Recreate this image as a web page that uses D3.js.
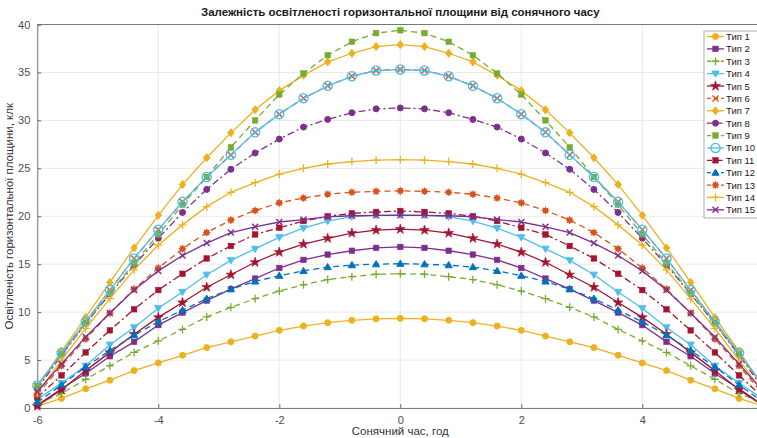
<!DOCTYPE html>
<html>
<head>
<meta charset="utf-8">
<script src="https://cdn.jsdelivr.net/npm/d3@7"></script>
<style>
  html, body { margin: 0; padding: 0; background: #fff; }
  svg { display: block; font-family: "Liberation Sans", Arial, sans-serif; }
</style>
</head>
<body>
<svg id="chart" width="757" height="438"></svg>
<script>
/* solar hour and illuminance of a horizontal plane, klx */
const hours = [-6,-5.6,-5.2,-4.8,-4.4,-4,-3.6,-3.2,-2.8,-2.4,-2,-1.6,-1.2,-0.8,-0.4,0,
               0.4,0.8,1.2,1.6,2,2.4,2.8,3.2,3.6,4,4.4,4.8,5.2,5.6,6];

const seriesNames = ["Тип 1","Тип 2","Тип 3","Тип 4","Тип 5","Тип 6","Тип 7","Тип 8",
                     "Тип 9","Тип 10","Тип 11","Тип 12","Тип 13","Тип 14","Тип 15"];

const type1  = [0.2,1.0,2.0,2.9,3.9,4.7,5.5,6.3,6.9,7.5,8.1,8.55,8.9,9.15,9.3,9.35,9.3,9.15,8.9,8.55,8.1,7.5,6.9,6.3,5.5,4.7,3.9,2.9,2.0,1.0,0.2];
const type2  = [0.3,2.0,3.6,5.4,6.9,8.65,9.95,11.2,12.4,13.5,14.6,15.45,16.0,16.4,16.7,16.8,16.7,16.4,16.0,15.45,14.6,13.5,12.4,11.2,9.95,8.65,6.9,5.4,3.6,2.0,0.3];
const type3  = [0.5,1.5,3.0,4.4,5.8,7.0,8.2,9.5,10.5,11.4,12.2,12.85,13.4,13.7,13.95,14.0,13.95,13.7,13.4,12.85,12.2,11.4,10.5,9.5,8.2,7.0,5.8,4.4,3.0,1.5,0.5];
const type4  = [0.9,2.6,4.4,6.6,8.4,10.4,12.1,13.9,15.4,16.6,17.8,18.75,19.5,19.95,20.1,20.15,20.1,19.95,19.5,18.75,17.8,16.6,15.4,13.9,12.1,10.4,8.4,6.6,4.4,2.6,0.9];
const type5  = [0.2,1.9,3.9,5.8,7.7,9.45,11.0,12.6,13.9,15.2,16.25,17.1,17.7,18.25,18.55,18.65,18.55,18.25,17.7,17.1,16.25,15.2,13.9,12.6,11.0,9.45,7.7,5.8,3.9,1.9,0.2];
const type6  = [2.35,5.75,9.0,12.3,15.6,18.6,21.5,24.1,26.4,28.75,30.65,32.3,33.6,34.6,35.2,35.3,35.2,34.6,33.6,32.3,30.65,28.75,26.4,24.1,21.5,18.6,15.6,12.3,9.0,5.75,2.35];
const type7  = [2.2,5.9,9.45,13.1,16.7,20.1,23.3,26.1,28.7,31.1,33.1,34.7,36.1,37.0,37.7,37.9,37.7,37.0,36.1,34.7,33.1,31.1,28.7,26.1,23.3,20.1,16.7,13.1,9.45,5.9,2.2];
const type8  = [2.0,5.5,8.8,11.9,14.9,17.7,20.4,22.8,24.9,26.6,28.05,29.3,30.1,30.8,31.2,31.3,31.2,30.8,30.1,29.3,28.05,26.6,24.9,22.8,20.4,17.7,14.9,11.9,8.8,5.5,2.0];
const type9  = [2.3,5.6,8.8,12.0,15.1,18.1,21.2,24.1,27.2,30.0,32.7,34.9,36.8,38.2,39.1,39.4,39.1,38.2,36.8,34.9,32.7,30.0,27.2,24.1,21.2,18.1,15.1,12.0,8.8,5.6,2.3];
const type10 = [2.35,5.75,9.0,12.3,15.6,18.6,21.5,24.1,26.4,28.75,30.65,32.3,33.6,34.6,35.2,35.3,35.2,34.6,33.6,32.3,30.65,28.75,26.4,24.1,21.5,18.6,15.6,12.3,9.0,5.75,2.35];
const type11 = [1.1,3.4,5.8,8.1,10.3,12.3,14.0,15.6,16.9,18.1,18.8,19.5,20.0,20.3,20.45,20.55,20.45,20.3,20.0,19.5,18.8,18.1,16.9,15.6,14.0,12.3,10.3,8.1,5.8,3.4,1.1];
const type12 = [0.6,2.4,4.3,6.0,7.6,9.0,10.2,11.4,12.4,13.2,13.8,14.3,14.7,14.9,15.0,15.05,15.0,14.9,14.7,14.3,13.8,13.2,12.4,11.4,10.2,9.0,7.6,6.0,4.3,2.4,0.6];
const type13 = [1.4,4.4,7.2,9.9,12.4,14.6,16.6,18.3,19.6,20.6,21.4,21.9,22.3,22.5,22.6,22.65,22.6,22.5,22.3,21.9,21.4,20.6,19.6,18.3,16.6,14.6,12.4,9.9,7.2,4.4,1.4];
const type14 = [1.6,5.0,8.3,11.4,14.4,17.0,19.1,21.0,22.5,23.5,24.4,25.0,25.45,25.7,25.85,25.9,25.85,25.7,25.45,25.0,24.4,23.5,22.5,21.0,19.1,17.0,14.4,11.4,8.3,5.0,1.6];
const type15 = [1.7,4.6,7.4,9.9,12.3,14.3,15.9,17.2,18.3,18.9,19.4,19.65,19.95,20.05,20.1,20.1,20.1,20.05,19.95,19.65,19.4,18.9,18.3,17.2,15.9,14.3,12.3,9.9,7.4,4.6,1.7];

const seriesValues = [type1, type2, type3, type4, type5, type6, type7, type8,
                      type9, type10, type11, type12, type13, type14, type15];

/* the x = 6 end of the axis falls outside the cropped picture */
const xTicks = [-6, -4, -2, 0, 2, 4];
const yTicks = [0, 5, 10, 15, 20, 25, 30, 35, 40];

/* line colour, dash and marker per series (MATLAB-like) */
const C = {
  blue: "#0072BD", orange: "#D95319", yellow: "#EDB120", purple: "#7E2F8E",
  green: "#77AC30", cyan: "#4DBEEE", red: "#A2142F"
};
const DASH = "6,4", DASHDOT = "7,3,2,3";
const styles = [
  { color: C.yellow, dash: null,    marker: "circle"   },
  { color: C.purple, dash: null,    marker: "square"   },
  { color: C.green,  dash: DASH,    marker: "plus"     },
  { color: C.cyan,   dash: null,    marker: "tridown"  },
  { color: C.red,    dash: null,    marker: "star"     },
  { color: C.orange, dash: DASH,    marker: "times"    },
  { color: C.yellow, dash: null,    marker: "diamond"  },
  { color: C.purple, dash: DASHDOT, marker: "circle"   },
  { color: C.green,  dash: DASH,    marker: "square"   },
  { color: C.cyan,   dash: null,    marker: "ring"     },
  { color: C.red,    dash: DASHDOT, marker: "square"   },
  { color: C.blue,   dash: DASH,    marker: "triup"    },
  { color: C.orange, dash: DASH,    marker: "burst"    },
  { color: C.yellow, dash: null,    marker: "plus"     },
  { color: C.purple, dash: null,    marker: "times"    }
];

const W = 757, H = 438;
const margin = { left: 37.3, top: 24.5, bottom: 30 };
const plotRight = 37.3 + 12 * 60.5;   /* axis runs past the right edge (cropped) */

const x = d3.scaleLinear().domain([-6, 6]).range([margin.left, plotRight]);
const y = d3.scaleLinear().domain([0, 40]).range([H - margin.bottom, margin.top]);

const svg = d3.select("#chart");
svg.append("rect").attr("width", W).attr("height", H).attr("fill", "#fff");

/* grid */
const grid = svg.append("g");
grid.selectAll("line.gx").data(xTicks).join("line")
  .attr("x1", d => x(d)).attr("x2", d => x(d))
  .attr("y1", y(0)).attr("y2", y(40))
  .attr("stroke", "#e3e3e3").attr("stroke-width", 0.8);
grid.selectAll("line.gy").data(yTicks).join("line")
  .attr("x1", x(-6)).attr("x2", x(6))
  .attr("y1", d => y(d)).attr("y2", d => y(d))
  .attr("stroke", "#e3e3e3").attr("stroke-width", 0.8);

/* axes (plain hyphen minus, like the source) */
const fmt = d => String(d);
const xAxis = svg.append("g")
  .attr("transform", `translate(0,${y(0)})`)
  .call(d3.axisBottom(x).tickValues(xTicks).tickSize(-4).tickPadding(8).tickFormat(fmt));
const yAxis = svg.append("g")
  .attr("transform", `translate(${x(-6)},0)`)
  .call(d3.axisLeft(y).tickValues(yTicks).tickSize(-4).tickPadding(7).tickFormat(fmt));
[xAxis, yAxis].forEach(a => {
  a.select(".domain").attr("stroke", "#6b6b6b").attr("stroke-width", 0.9);
  a.selectAll(".tick line").attr("stroke", "#6b6b6b");
  a.selectAll(".tick text").attr("fill", "#4d4d4d")
    .style("font-size", "11px").style("font-family", "'Liberation Sans', Arial, sans-serif");
});
/* top border of the box */
svg.append("line")
  .attr("x1", x(-6)).attr("x2", x(6)).attr("y1", y(40)).attr("y2", y(40))
  .attr("stroke", "#6b6b6b").attr("stroke-width", 0.9);

/* marker drawing */
function drawMarker(g, kind, color, cx, cy) {
  const m = g.append("g").attr("transform", `translate(${cx},${cy})`);
  switch (kind) {
    case "circle":
      m.append("circle").attr("r", 3).attr("fill", color).attr("stroke", color); break;
    case "square":
      m.append("rect").attr("x", -2.8).attr("y", -2.8).attr("width", 5.6).attr("height", 5.6)
        .attr("fill", color).attr("stroke", color).attr("stroke-width", 0.5); break;
    case "plus":
      m.append("path").attr("d", "M-4,0H4M0,-4V4").attr("stroke", color).attr("stroke-width", 1.3).attr("fill", "none"); break;
    case "times":
      m.append("path").attr("d", "M-3,-3L3,3M-3,3L3,-3").attr("stroke", color).attr("stroke-width", 1.4).attr("fill", "none"); break;
    case "tridown":
      m.append("path").attr("d", "M-3.6,-2.6L3.6,-2.6L0,3.6Z").attr("fill", color).attr("stroke", color); break;
    case "triup":
      m.append("path").attr("d", "M-3.6,2.6L3.6,2.6L0,-3.6Z").attr("fill", color).attr("stroke", color); break;
    case "diamond":
      m.append("path").attr("d", "M0,-4L3.2,0L0,4L-3.2,0Z").attr("fill", color).attr("stroke", color); break;
    case "ring":
      m.append("circle").attr("r", 4.6).attr("fill", "none").attr("stroke", color).attr("stroke-width", 1.3); break;
    case "star":
      m.append("path").attr("d", d3.symbol().type(d3.symbolStar).size(30)()).attr("fill", color).attr("stroke", color).attr("stroke-width", 0.6); break;
    case "burst":
      m.append("circle").attr("r", 2.8).attr("fill", color);
      m.append("path").attr("d", "M-3.8,0H3.8M0,-3.8V3.8M-2.7,-2.7L2.7,2.7M-2.7,2.7L2.7,-2.7")
        .attr("stroke", color).attr("stroke-width", 1.1); break;
  }
}

/* series */
const line = d3.line().x((d, i) => x(hours[i])).y(d => y(d));
const plot = svg.append("g");
seriesValues.forEach((vals, s) => {
  const st = styles[s];
  const g = plot.append("g");
  g.append("path").datum(vals)
    .attr("d", line)
    .attr("fill", "none")
    .attr("stroke", st.color)
    .attr("stroke-width", 1.3)
    .attr("stroke-dasharray", st.dash);
  vals.forEach((v, i) => drawMarker(g, st.marker, st.color, x(hours[i]), y(v)));
});

/* title and axis labels */
svg.append("text")
  .attr("x", (margin.left + plotRight) / 2).attr("y", 16)
  .attr("text-anchor", "middle").attr("font-weight", "bold").attr("font-size", 11.5)
  .attr("fill", "#1a1a1a")
  .text("Залежність освітленості горизонтальної площини від сонячного часу");
svg.append("text")
  .attr("x", (margin.left + plotRight) / 2).attr("y", 435)
  .attr("text-anchor", "middle").attr("font-size", 11.5).attr("fill", "#333")
  .text("Сонячний час, год");
svg.append("text")
  .attr("transform", `translate(13,${y(20)}) rotate(-90)`)
  .attr("text-anchor", "middle").attr("font-size", 11.5).attr("fill", "#333")
  .text("Освітленість горизонтальної площини, клк");

/* legend */
const lg = svg.append("g").attr("transform", "translate(704,31)");
lg.append("rect").attr("width", 70).attr("height", 187)
  .attr("fill", "#fff").attr("stroke", "#9a9a9a").attr("stroke-width", 0.8);
seriesNames.forEach((name, i) => {
  const st = styles[i];
  const cy = 5.5 + i * 12.38;
  lg.append("line").attr("x1", 3).attr("x2", 20).attr("y1", cy).attr("y2", cy)
    .attr("stroke", st.color).attr("stroke-width", 1.3)
    .attr("stroke-dasharray", st.dash ? (st.dash === DASH ? "4,3" : "5,2,1.5,2") : null);
  drawMarker(lg, st.marker, st.color, 11.5, cy);
  lg.append("text").attr("x", 22).attr("y", cy + 3.5)
    .attr("font-size", 9.5).attr("fill", "#1a1a1a").text(name);
});
</script>
</body>
</html>
